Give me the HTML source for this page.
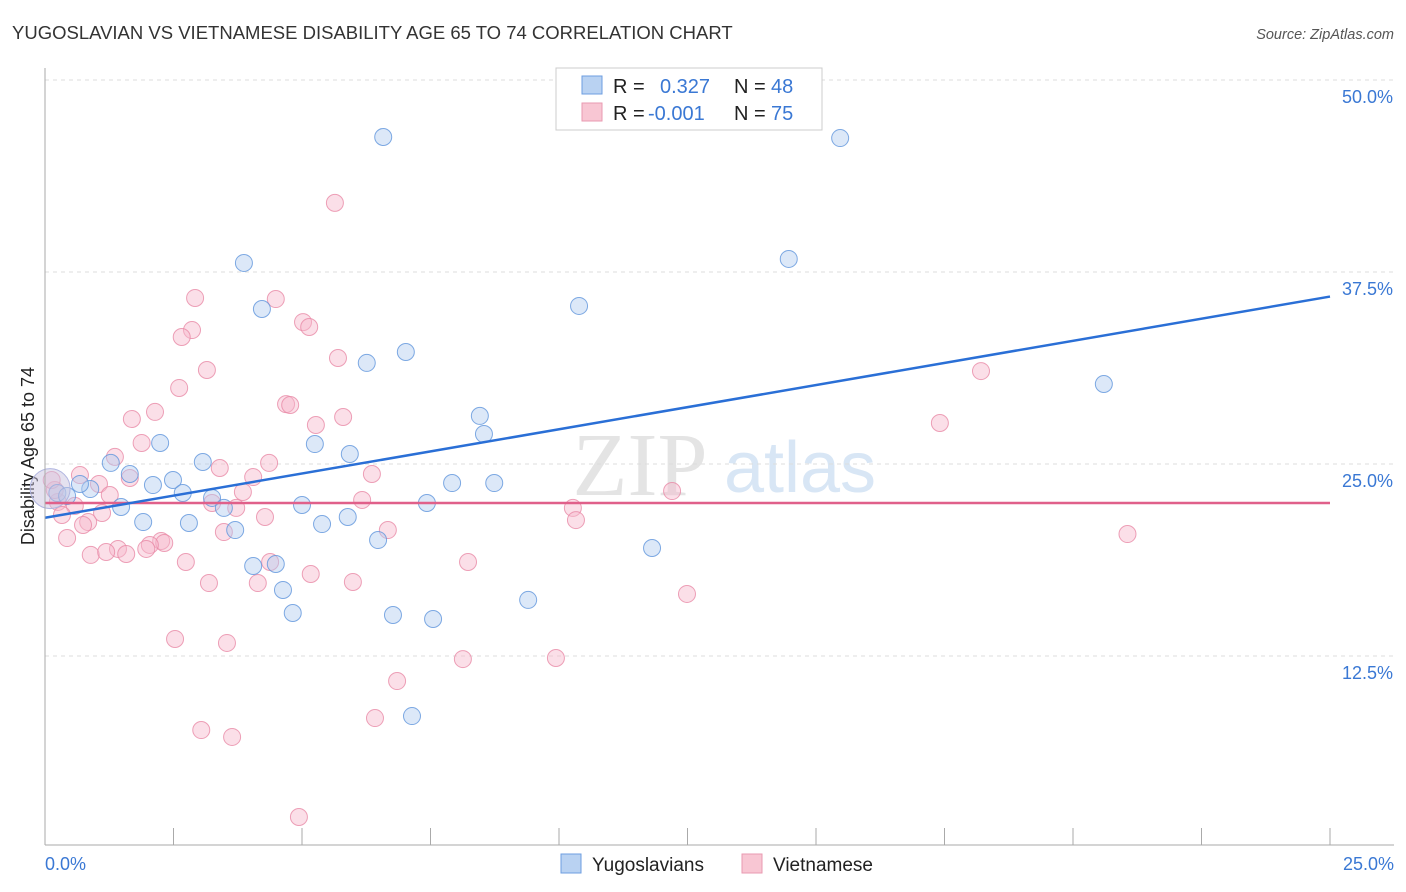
<!DOCTYPE html>
<html><head><meta charset="utf-8"><style>
body{margin:0;background:#fff;font-family:"Liberation Sans",sans-serif;}
svg{display:block}
</style></head><body>
<svg id="c" width="1406" height="892">
<text x="12" y="39" font-size="18.5" fill="#333">YUGOSLAVIAN VS VIETNAMESE DISABILITY AGE 65 TO 74 CORRELATION CHART</text>
<text x="1394" y="39" font-size="14.5" fill="#555" font-style="italic" text-anchor="end">Source: ZipAtlas.com</text>
<text x="34" y="456" font-size="18" fill="#222" text-anchor="middle" transform="rotate(-90 34 456)">Disability Age 65 to 74</text>
<text x="640" y="495" font-size="90" fill="#e4e4e4" font-family="Liberation Serif,serif" text-anchor="middle">ZIP</text>
<text x="800" y="492" font-size="72" fill="#d8e6f5" text-anchor="middle">atlas</text>
<g id="grid"></g><g id="pts"></g><g id="lines"></g>
<line x1="45" y1="68" x2="45" y2="845" stroke="#aaa"/>
<line x1="45" y1="845" x2="1394" y2="845" stroke="#aaa"/>
<text x="45" y="870" font-size="18" fill="#3a78d4">0.0%</text>
<text x="1394" y="870" font-size="18" fill="#3a78d4" text-anchor="end">25.0%</text>
<g>
<rect x="556" y="68" width="266" height="62" fill="#fff" stroke="#ccc"/>
<rect x="582" y="76" width="20" height="18" fill="#b9d2f2" stroke="#6d9ee0"/>
<rect x="582" y="103" width="20" height="18" fill="#f8c6d3" stroke="#e99ab0"/>
<text x="613" y="93" font-size="20" fill="#222">R =</text>
<text x="660" y="93" font-size="20" fill="#3a78d4">0.327</text>
<text x="734" y="93" font-size="20" fill="#222">N =</text>
<text x="771" y="93" font-size="20" fill="#3a78d4">48</text>
<text x="613" y="120" font-size="20" fill="#222">R =</text>
<text x="648" y="120" font-size="20" fill="#3a78d4">-0.001</text>
<text x="734" y="120" font-size="20" fill="#222">N =</text>
<text x="771" y="120" font-size="20" fill="#3a78d4">75</text>
</g>
<g>
<rect x="561" y="854" width="20" height="19" fill="#b9d2f2" stroke="#6d9ee0"/>
<text x="592" y="871" font-size="19" fill="#222">Yugoslavians</text>
<rect x="742" y="854" width="20" height="19" fill="#f8c6d3" stroke="#e99ab0"/>
<text x="773" y="871" font-size="19" fill="#222">Vietnamese</text>
</g>
</svg>
<script>
const yTicks=[12.5,25,37.5,50];
const xTicks=[0,2.5,5,7.5,10,12.5,15,17.5,20,22.5,25];
const blueX=[6.58,15.47,3.87,14.47,4.22,10.39,7.02,6.26,20.6,8.46,8.54,2.24,5.25,5.93,3.07,1.28,1.65,2.49,2.1,7.92,8.74,0.88,0.68,0.24,0.43,2.68,3.25,5,7.43,1.48,3.48,1.91,2.8,5.39,5.89,3.7,6.48,11.81,4.05,4.49,4.63,4.82,6.77,7.55,9.4,7.14];
const blueY=[46.29,46.22,38.09,38.35,35.09,35.29,32.29,31.58,30.21,28.13,26.95,26.37,26.3,25.65,25.13,25.07,24.35,23.96,23.63,23.76,23.76,23.37,23.7,23.11,22.92,23.11,22.79,22.33,22.46,22.2,22.14,21.22,21.16,21.09,21.55,20.7,20.05,19.53,18.36,18.49,16.8,15.3,15.17,14.91,16.15,8.59];
const pinkX=[5.64,2.92,4.49,2.86,2.66,5.02,5.14,5.7,3.15,2.61,18.21,4.69,4.77,2.14,1.69,5.8,5.27,17.41,1.88,1.36,4.36,3.4,4.05,6.36,0.68,1.05,1.65,1.26,3.85,6.17,3.25,3.72,4.28,0.25,0.58,0.33,1.11,0.84,0.74,10.27,10.33,12.2,21.06,6.67,3.48,0.43,2.26,2.32,2.04,1.42,1.97,0.89,1.19,1.58,2.74,8.23,4.38,5.17,5.99,3.19,4.14,12.49,2.53,3.54,8.13,9.94,6.85,6.42,3.04,3.64,4.94,0.19,0.13];
const pinkY=[42,35.81,35.74,33.72,33.27,34.24,33.92,31.9,31.12,29.95,31.05,28.9,28.84,28.39,27.93,28.06,27.54,27.67,26.37,25.46,25.07,24.74,24.15,24.35,24.28,23.7,24.09,22.98,23.18,22.66,22.46,22.14,21.55,22.53,22.27,21.68,21.81,21.22,21.03,22.14,21.35,23.24,20.44,20.7,20.57,20.18,19.99,19.86,19.73,19.47,19.47,19.08,19.27,19.14,18.62,18.62,18.62,17.84,17.32,17.25,17.25,16.54,13.61,13.35,12.3,12.37,10.87,8.46,7.68,7.23,2.02,23.31,23.96];
const blueFit=[21.5,35.9];
const pinkFit=[22.46,22.46];
const X=v=>45+v/25*1285, Y=v=>848-v*15.36;
const NS="http://www.w3.org/2000/svg";
const g=document.getElementById('grid'),p=document.getElementById('pts'),l=document.getElementById('lines');
yTicks.forEach(t=>{
 const ln=document.createElementNS(NS,'line');
 
 
 ln.setAttribute('x1',45);ln.setAttribute('x2',1394);ln.setAttribute('y1',Y(t));ln.setAttribute('y2',Y(t));
 ln.setAttribute('stroke','#ddd');ln.setAttribute('stroke-dasharray','4,4');g.appendChild(ln);
 const tx=document.createElementNS(NS,'text');
 
 
 tx.setAttribute('x',1393);tx.setAttribute('y',Y(t)+23);tx.setAttribute('text-anchor','end');
 tx.setAttribute('font-size','18');tx.setAttribute('fill','#3a78d4');tx.textContent=t.toFixed(1)+'%';g.appendChild(tx);
});
xTicks.forEach(t=>{
 const ln=document.createElementNS(NS,'line');
 
 
 ln.setAttribute('x1',X(t));ln.setAttribute('x2',X(t));ln.setAttribute('y1',828);ln.setAttribute('y2',845);
 ln.setAttribute('stroke','#aaa');g.appendChild(ln);
});
function dots(xs,ys,fill,stroke,name){
 xs.forEach((v,i)=>{
  const c=document.createElementNS(NS,'circle');
  
  
  c.setAttribute('cx',X(v));c.setAttribute('cy',Y(ys[i]));c.setAttribute('r',8.5);
  c.setAttribute('fill',fill);c.setAttribute('fill-opacity','0.45');c.setAttribute('stroke',stroke);c.setAttribute('stroke-opacity','0.8');
  p.appendChild(c);
 });
}
dots(pinkX,pinkY,'#f7b9cb','#e88aa6','vietnamese-point');
dots(blueX,blueY,'#b2cdf0','#5f95dc','yugoslavian-point');
const big=document.createElementNS(NS,'circle');


big.setAttribute('cx',X(0.1));big.setAttribute('cy',Y(23.4));big.setAttribute('r',20);
big.setAttribute('fill','#c9c4e0');big.setAttribute('fill-opacity','0.5');big.setAttribute('stroke','#b0b5e0');
p.appendChild(big);
function fit(f,col,name){
 const ln=document.createElementNS(NS,'line');
 
 
 ln.setAttribute('x1',X(0));ln.setAttribute('x2',X(25));ln.setAttribute('y1',Y(f[0]));ln.setAttribute('y2',Y(f[1]));
 ln.setAttribute('stroke',col);ln.setAttribute('stroke-width','2.5');l.appendChild(ln);
}
fit(pinkFit,'#e0608a','vietnamese-trendline');
fit(blueFit,'#2a6fd6','yugoslavian-trendline');
</script>
</body></html>
